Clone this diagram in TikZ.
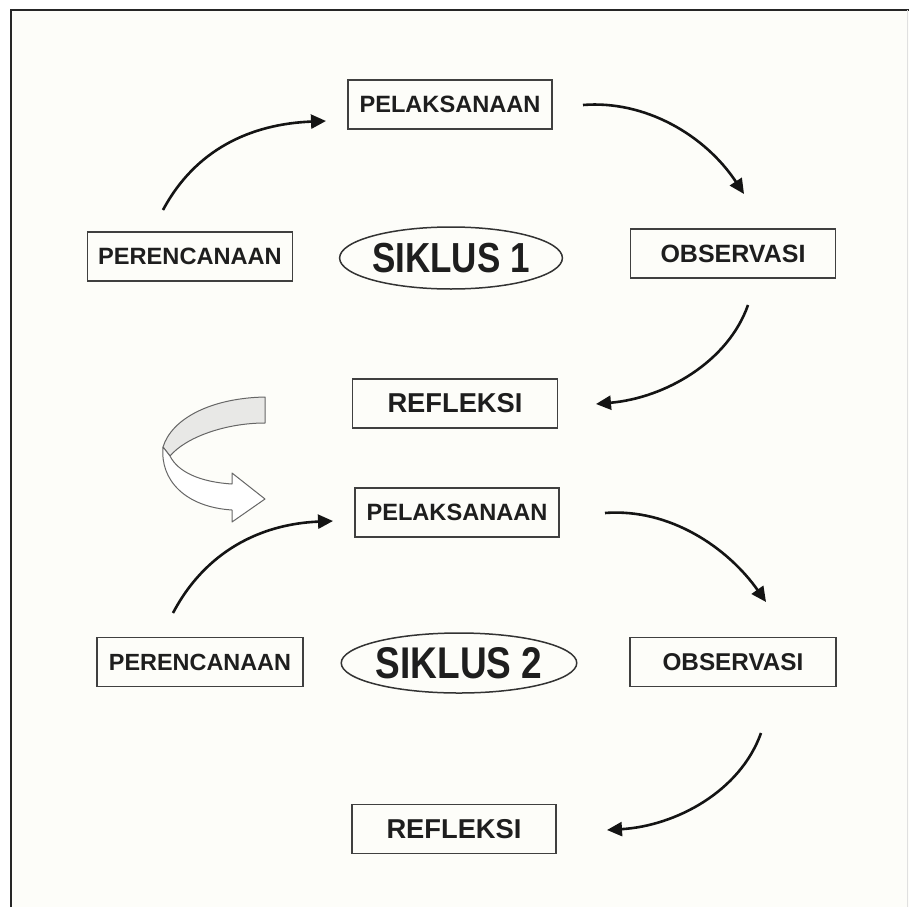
\documentclass[tikz,border=0pt]{standalone}
\usepackage{fontspec}
\setmainfont{Liberation Sans}
\usetikzlibrary{arrows.meta,shapes.geometric}
\definecolor{paper}{RGB}{253,253,249}
\definecolor{ink}{RGB}{30,30,30}
\definecolor{band}{RGB}{232,232,230}
\newcommand\myfs[1]{\fontsize{#1}{#1}\selectfont}
\begin{document}
\begin{tikzpicture}[x=1pt,y=-1pt,
  box/.style={draw=black!75, line width=1.8pt, minimum width=#1, minimum height=49pt,
              inner sep=0pt, font=\bfseries, text=ink},
  cyc/.style={draw=black!80, line width=1.5pt, ellipse, minimum width=212pt,
              minimum height=62pt, inner sep=0pt, font=\bfseries, text=ink},
  flow/.style={line width=2.6pt, black!92, -{Triangle[length=15pt,width=14pt]}},
  ribbon/.style={draw=black!60, line width=1pt, line join=round}
]
\useasboundingbox (0,0) rectangle (909,907);
\fill[white] (0,0) rectangle (909,907);
\fill[paper] (11,10) rectangle (909,907);
\draw[black!85, line width=2.6pt] (11,907) -- (11,10) -- (909,10);
\draw[black!12, line width=1pt] (907,10) -- (907,907);

% cycle 1
\node[box=204pt] (pel1) at (450,104.5) {\myfs{23.6}PELAKSANAAN};
\node[box=205pt] (per1) at (190,256.5) {\myfs{23.6}PERENCANAAN};
\node[cyc] (sik1) at (451,258) {\scalebox{1}[1.2]{\myfs{35}SIKLUS 1}};
\node[box=205pt] (obs1) at (733,253.5) {\myfs{25}OBSERVASI};
\node[box=205pt] (ref1) at (455,403.5) {\myfs{27.3}REFLEKSI};

% cycle 2
\node[box=204pt] (pel2) at (457,512.5) {\myfs{23.6}PELAKSANAAN};
\node[box=206pt] (per2) at (200,662) {\myfs{23.4}PERENCANAAN};
\node[cyc, minimum width=215pt, minimum height=60pt] (sik2) at (459,663) {\scalebox{1}[1.2]{\myfs{37}SIKLUS 2}};
\node[box=206pt] (obs2) at (733,662) {\myfs{24.3}OBSERVASI};
\node[box=204pt] (ref2) at (454,829) {\myfs{27.3}REFLEKSI};

% arrow end points
\coordinate (a1s) at (163,210); \coordinate (a1e) at (326,121);
\coordinate (a2s) at (583,105); \coordinate (a2e) at (744,194);
\coordinate (a3s) at (748,305); \coordinate (a3e) at (596,404);
\coordinate (b1s) at (173,613); \coordinate (b1e) at (333,521);
\coordinate (b2s) at (605,513); \coordinate (b2e) at (766,602);
\coordinate (b3s) at (761,733); \coordinate (b3e) at (607,830);

\draw[flow] (a1s) .. controls (195,150) and (250,124) .. (a1e);
\draw[flow] (a2s) .. controls (645,100) and (705,135) .. (a2e);
\draw[flow] (a3s) .. controls (728,362) and (665,398) .. (a3e);
\draw[flow] (b1s) .. controls (205,552) and (260,524) .. (b1e);
\draw[flow] (b2s) .. controls (670,508) and (728,548) .. (b2e);
\draw[flow] (b3s) .. controls (740,792) and (675,826) .. (b3e);

% ribbon arrow between the cycles
\filldraw[ribbon, fill=band] (265,397) .. controls (212,398) and (172,418) .. (163,447)
  -- (170,456) .. controls (186,437) and (226,423) .. (265,423) -- cycle;
\filldraw[ribbon, fill=white] (163,447) .. controls (160,480) and (185,507) .. (232,510)
  -- (232,522) -- (265,499) -- (232,473) -- (232,484)
  .. controls (200,482) and (178,472) .. (170,456) -- cycle;
\end{tikzpicture}
\end{document}
